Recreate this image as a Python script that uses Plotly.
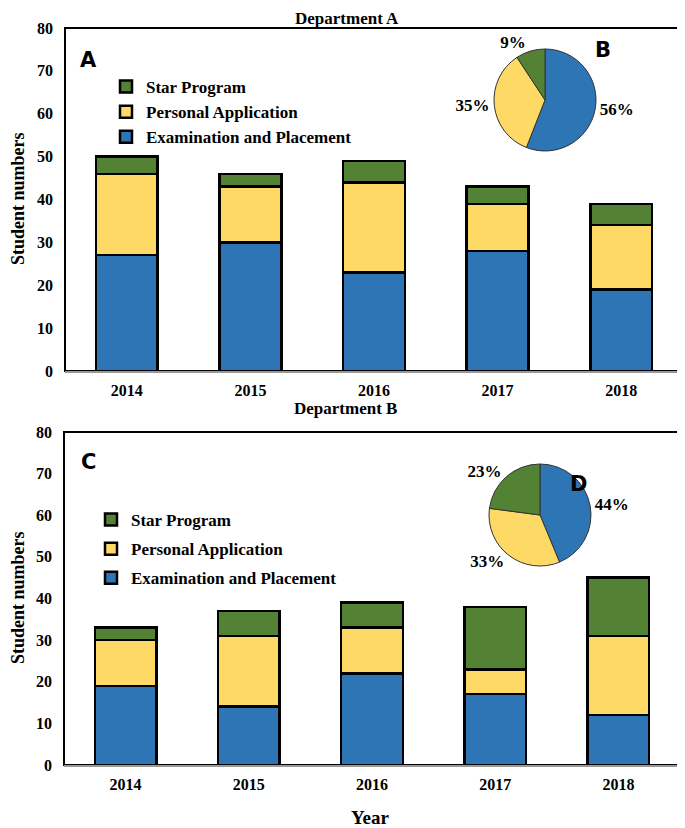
import plotly.graph_objects as go

years = ["2014", "2015", "2016", "2017", "2018"]
series_names = ["Examination and Placement", "Personal Application", "Star Program"]
colors = ["#2E75B6", "#FFD966", "#548235"]

# Department A
a_exam = [27, 30, 23, 28, 19]
a_personal = [19, 13, 21, 11, 15]
a_star = [4, 3, 5, 4, 5]

# Department B
b_exam = [19, 14, 22, 17, 12]
b_personal = [11, 17, 11, 6, 19]
b_star = [3, 6, 6, 15, 14]

y_ticks = [0, 10, 20, 30, 40, 50, 60, 70, 80]

# page body has an 8px margin; map screen pixels to paper coords
OFF = 8
W, H = 685 - OFF, 828 - OFF
def px(x):
    return (x - OFF) / W
def py(y):
    return 1 - (y - OFF) / H

SERIF = "Liberation Serif"
fig = go.Figure()

dep_a = [a_exam, a_personal, a_star]
dep_b = [b_exam, b_personal, b_star]
ranks = [3, 2, 1]

for i, (name, vals) in enumerate(zip(series_names, dep_a)):
    fig.add_trace(go.Bar(x=years, y=vals, name=name, marker=dict(color=colors[i], line=dict(color="black", width=2.5)),
                         xaxis="x", yaxis="y", legend="legend", legendgroup="a" + str(i), legendrank=ranks[i]))
for i, (name, vals) in enumerate(zip(series_names, dep_b)):
    fig.add_trace(go.Bar(x=years, y=vals, name=name, marker=dict(color=colors[i], line=dict(color="black", width=2.5)),
                         xaxis="x2", yaxis="y2", legend="legend2", legendgroup="b" + str(i), legendrank=ranks[i]))

tot_a = [sum(v) for v in dep_a]
tot_b = [sum(v) for v in dep_b]

pie_common = dict(sort=False, direction="clockwise", rotation=0, textposition="outside",
                  texttemplate="%{percent:.0%}", showlegend=False, hoverinfo="label+value+percent",
                  textfont=dict(family=SERIF, size=17, color="black", weight="bold"))
fig.add_trace(go.Pie(labels=series_names, values=tot_a,
                     marker=dict(colors=colors, line=dict(color="#333333", width=1)),
                     domain=dict(x=[px(494), px(596)], y=[py(151), py(49)]), **pie_common))
fig.add_trace(go.Pie(labels=series_names, values=tot_b,
                     marker=dict(colors=colors, line=dict(color="#333333", width=1)),
                     domain=dict(x=[px(489), px(591)], y=[py(566), py(464)]), **pie_common))

tickfont = dict(family=SERIF, size=16, color="black", weight="bold")
titlefont = dict(family=SERIF, size=18, color="black", weight="bold")

def xaxis(domain, anchor):
    return dict(domain=domain, anchor=anchor, showline=True, linecolor="#999999", linewidth=2,
                ticks="", tickfont=tickfont, showgrid=False, automargin=False, zeroline=False,
                ticklabelstandoff=4)

def yaxis(domain, anchor):
    return dict(domain=domain, anchor=anchor, range=[0, 80], tickvals=y_ticks, showline=False,
                ticks="", tickfont=tickfont, showgrid=False, zeroline=False, automargin=False,
                ticklabelstandoff=11)

legend_common = dict(font=dict(family=SERIF, size=17, color="black", weight="bold"),
                     traceorder="grouped", bgcolor="rgba(0,0,0,0)", itemwidth=30,
                     xanchor="left", yanchor="top", itemclick=False)

def ann(text, x, y, font, angle=0):
    return dict(text=text, x=px(x), y=py(y), xref="paper", yref="paper", showarrow=False,
                xanchor="center", yanchor="middle", font=font, textangle=angle)

letter_font = dict(family="DejaVu Sans", size=21, color="black", weight="bold")

fig.update_layout(
    width=W, height=H,
    margin=dict(l=0, r=0, t=0, b=0),
    paper_bgcolor="white", plot_bgcolor="white",
    barmode="stack", bargap=0.5,
    xaxis=xaxis([px(65), px(683)], "y"),
    yaxis=yaxis([py(371), py(28)], "x"),
    xaxis2=xaxis([px(64), px(680)], "y2"),
    yaxis2=yaxis([py(765), py(432)], "x2"),
    legend=dict(x=px(106), y=py(69), tracegroupgap=0, **legend_common),
    legend2=dict(x=px(91), y=py(502), tracegroupgap=4, **legend_common),
    shapes=[
        dict(type="rect", xref="x domain", yref="y domain", x0=0, x1=1, y0=0, y1=1,
             line=dict(color="black", width=2), layer="below"),
        dict(type="rect", xref="x2 domain", yref="y2 domain", x0=0, x1=1, y0=0, y1=1,
             line=dict(color="black", width=2), layer="below"),
    ],
    annotations=[
        ann("Department A", 347, 18, dict(family=SERIF, size=17, color="black", weight="bold")),
        ann("Department B", 345, 408, dict(family=SERIF, size=17, color="black", weight="bold")),
        ann("Year", 370, 817, dict(family=SERIF, size=19, color="black", weight="bold")),
        ann("Student numbers", 18, 199, titlefont, -90),
        ann("Student numbers", 18, 598, titlefont, -90),
        ann("A", 88, 60, letter_font),
        ann("B", 603, 50, letter_font),
        ann("C", 88, 462, letter_font),
        ann("D", 578, 484, letter_font),
    ],
)

fig.write_html("out.html")
